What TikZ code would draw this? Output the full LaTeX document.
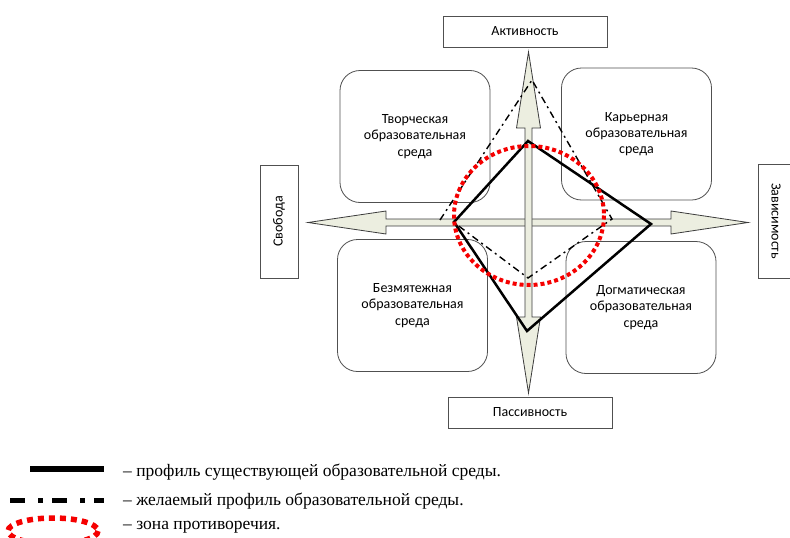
\documentclass[tikz,border=0pt]{standalone}
\usepackage{fontspec}
\setmainfont{Carlito}
\newfontfamily\legendfont{Liberation Serif}
\usetikzlibrary{positioning}
\definecolor{axisfill}{RGB}{236,238,224}
\definecolor{axisedge}{RGB}{60,60,60}
\definecolor{boxedge}{RGB}{80,80,80}
\definecolor{zonered}{RGB}{245,0,0}
\tikzset{
  envbox/.style={rectangle, draw=boxedge, fill=white, rounded corners=20pt,
    line width=0.8pt, minimum width=150pt, minimum height=132pt,
    align=center, font=\fontsize{14}{16.3}\selectfont},
  axislabel/.style={rectangle, draw=boxedge, fill=white, line width=0.8pt,
    minimum width=164pt, minimum height=31pt, font=\fontsize{14}{16}\selectfont},
  axisarrow/.style={draw=axisedge, fill=axisfill, line width=0.8pt},
  nowline/.style={draw=black, line width=2.5pt, line join=miter},
  wishline/.style={draw=black, line width=1.4pt,
    dash pattern=on 7pt off 4pt on 2pt off 4pt},
  zoneline/.style={draw=zonered, line width=4pt, dash pattern=on 4pt off 3pt},
  legendtext/.style={anchor=west, inner sep=0pt,
    font=\legendfont\fontsize{17.5}{20}\selectfont}
}
\begin{document}
\begin{tikzpicture}[x=1pt, y=-1pt]
  \useasboundingbox (0,0) rectangle (790,538);

  % quadrants
  \node[envbox] (creative) at (415,136.5) {Творческая\\образовательная\\среда};
  \node[envbox] (career) at (636.5,134) {Карьерная\\образовательная\\среда};
  \node[envbox] (serene) at (412.5,305.5) {Безмятежная\\образовательная\\среда};
  \node[envbox] (dogma) at (641,307.5) {Догматическая\\образовательная\\среда};

  % axis labels
  \node[axislabel] (active) at (525,31.5) {Активность};
  \node[axislabel] (passive) at (530,412.5) {Пассивность};
  \node[axislabel, rotate=90, minimum width=113pt, minimum height=38pt] (free) at (279,221.5) {Свобода};
  \node[axislabel, rotate=-90, minimum width=114pt, minimum height=36pt] (depend) at (776,221) {Зависимость};

  % axes
  \coordinate (c) at (528.5,222.5);
  \draw[axisarrow] (308,222.5) -- (386,211) -- (386,219) -- (671,219) -- (671,211)
    -- (748,222.5) -- (671,234) -- (671,226) -- (386,226) -- (386,234) -- cycle;
  \draw[axisarrow] (528.5,52) -- (540.5,128) -- (532,128) -- (532,317) -- (540.5,317)
    -- (528.5,393) -- (516.5,317) -- (525,317) -- (525,128) -- (516.5,128) -- cycle;

  % profiles
  \coordinate (nowT) at (528,141);
  \coordinate (nowR) at (651,224);
  \coordinate (nowB) at (527,331);
  \coordinate (nowL) at (454,222);
  \draw[nowline] (nowT) -- (nowR) -- (nowB) -- (nowL) -- cycle;

  \coordinate (wishL) at (440,220);
  \coordinate (wishT) at (532,80);
  \coordinate (wishR) at (612,219);
  \coordinate (wishB) at (528,278);
  \draw[wishline] (wishL) -- (wishT) -- (wishR) -- (wishB) -- (456,224);

  \draw[zoneline] (529,215.5) ellipse [x radius=75, y radius=69.5];

  % legend
  \coordinate (l1a) at (30,469);
  \coordinate (l1b) at (104,469);
  \draw[black, line width=6pt] (l1a) -- (l1b);
  \node[legendtext] (leg1) at (123,472) {– профиль существующей образовательной среды.};

  \coordinate (l2a) at (10,500);
  \coordinate (l2b) at (104,500);
  \draw[black, line width=5pt, dash pattern=on 15pt off 13pt on 5pt off 9pt] (l2a) -- (l2b);
  \node[legendtext] (leg2) at (123,501) {– желаемый профиль образовательной среды.};

  \draw[zonered, line width=5.5pt, dash pattern=on 6pt off 5pt] (53,531) ellipse [x radius=45, y radius=13];
  \node[legendtext] (leg3) at (123,527) {– зона противоречия.};
\end{tikzpicture}
\end{document}
